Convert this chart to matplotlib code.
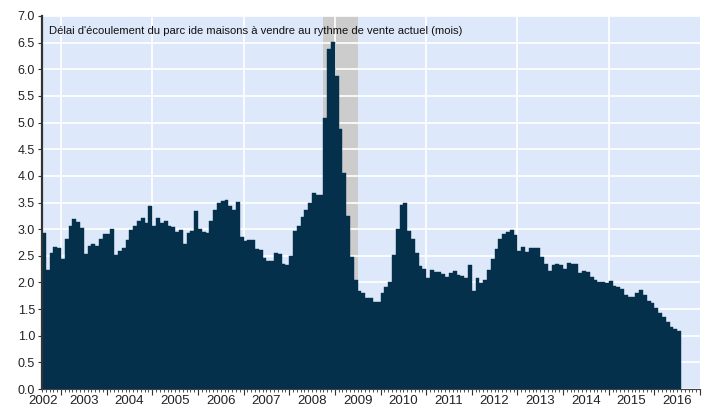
import matplotlib
matplotlib.use("Agg")
import matplotlib.pyplot as plt
import numpy as np
from matplotlib.ticker import FormatStrFormatter

plt.rcParams["font.family"] = ["Liberation Sans", "DejaVu Sans"]

NAVY = "#04304c"
BG = "#dde9fb"
SHADE = "#cccccc"

TITLE = "Délai d'écoulement du parc ide maisons à vendre au rythme de vente actuel (mois)"

# monthly series, first month = Aug 2002
START_YEAR = 2002
START_MONTH = 8
MONTHS_SUPPLY = [
    2.93, 2.24, 2.55, 2.67, 2.65, 2.44, 2.82, 3.06, 3.19, 3.13, 3.02, 2.53,
    2.68, 2.73, 2.69, 2.82, 2.91, 2.91, 3.01, 2.52, 2.59, 2.64, 2.80, 2.99,
    3.06, 3.16, 3.21, 3.11, 3.44, 3.06, 3.21, 3.11, 3.15, 3.06, 3.04, 2.94,
    2.99, 2.73, 2.93, 2.97, 3.34, 3.01, 2.94, 2.92, 3.16, 3.35, 3.50, 3.52,
    3.54, 3.43, 3.36, 3.51, 2.85, 2.78, 2.80, 2.80, 2.62, 2.61, 2.45, 2.40,
    2.40, 2.55, 2.54, 2.34, 2.33, 2.50, 2.97, 3.05, 3.23, 3.35, 3.49, 3.68,
    3.65, 3.65, 5.08, 6.38, 6.51, 5.88, 4.88, 4.05, 3.25, 2.48, 2.05, 1.84,
    1.80, 1.71, 1.70, 1.64, 1.63, 1.80, 1.91, 2.00, 2.52, 3.00, 3.46, 3.49,
    2.96, 2.81, 2.55, 2.31, 2.25, 2.09, 2.23, 2.19, 2.19, 2.16, 2.11, 2.17,
    2.22, 2.14, 2.13, 2.09, 2.33, 1.83, 2.09, 1.99, 2.04, 2.24, 2.44, 2.63,
    2.81, 2.91, 2.94, 2.98, 2.89, 2.59, 2.67, 2.57, 2.65, 2.64, 2.64, 2.47,
    2.34, 2.22, 2.33, 2.35, 2.33, 2.26, 2.36, 2.34, 2.34, 2.18, 2.21, 2.19,
    2.11, 2.04, 2.01, 2.00, 1.98, 2.03, 1.93, 1.91, 1.87, 1.76, 1.73, 1.72,
    1.81, 1.85, 1.76, 1.65, 1.61, 1.52, 1.42, 1.36, 1.26, 1.16, 1.13, 1.09,
]
RECESSION = (2008.75, 2009.5)   # shaded band (Oct 2008 - Jun 2009)
YEARS = list(range(2002, 2017))
GRID_YEARS = [2003, 2005, 2007, 2009, 2011, 2013, 2015]
X_END = 2017.0

start = START_YEAR + (START_MONTH - 1) / 12
x = start + np.arange(len(MONTHS_SUPPLY)) / 12

fig = plt.figure(figsize=(7.06, 4.13), dpi=100)
ax = fig.add_axes([42 / 706, 1 - 389 / 413, 658 / 706, 373 / 413])
ax.set_facecolor(BG)

ax.axvspan(*RECESSION, color=SHADE, lw=0, zorder=0.5)
for yr in GRID_YEARS:
    ax.axvline(yr, color="white", lw=1.2, zorder=1)
ax.yaxis.grid(True, color="white", lw=1.2, zorder=1)
ax.set_axisbelow(True)

ax.bar(x, MONTHS_SUPPLY, width=1 / 12, align="edge", color=NAVY,
       edgecolor=NAVY, lw=0.3, zorder=2)

ax.set_xlim(start, X_END)
ax.set_ylim(0, 7.0)
ax.set_yticks(np.arange(0, 7.01, 0.5))
ax.yaxis.set_major_formatter(FormatStrFormatter("%.1f"))
ax.tick_params(axis="y", length=3, width=0.8, color="#333333",
               labelsize=9, labelcolor="#222222", pad=2)

ax.set_xticks(YEARS[1:] + [2017])
ax.set_xticklabels([])
ax.set_xticks(np.arange(start, X_END + 0.001, 1 / 12), minor=True)
ax.tick_params(axis="x", which="major", length=4, width=0.8, color="#333333")
ax.tick_params(axis="x", which="minor", length=2, width=0.6, color="#333333")
for yr in YEARS:
    xpos = yr + 0.5 if yr + 0.5 > start else 2002.605
    ax.text(xpos, -0.017, str(yr), transform=ax.get_xaxis_transform(),
            ha="center", va="top", fontsize=9.5, color="#222222")

for side in ["top", "right"]:
    ax.spines[side].set_visible(False)
ax.spines["left"].set_linewidth(1.6)
ax.spines["left"].set_color("#333333")
ax.spines["bottom"].set_linewidth(0.8)
ax.spines["bottom"].set_color("#444444")

ax.text(2002.737, 6.72, TITLE, ha="left", va="center", fontsize=8.1,
        color="#111111", zorder=3)

fig.savefig("out.png", dpi=100)
